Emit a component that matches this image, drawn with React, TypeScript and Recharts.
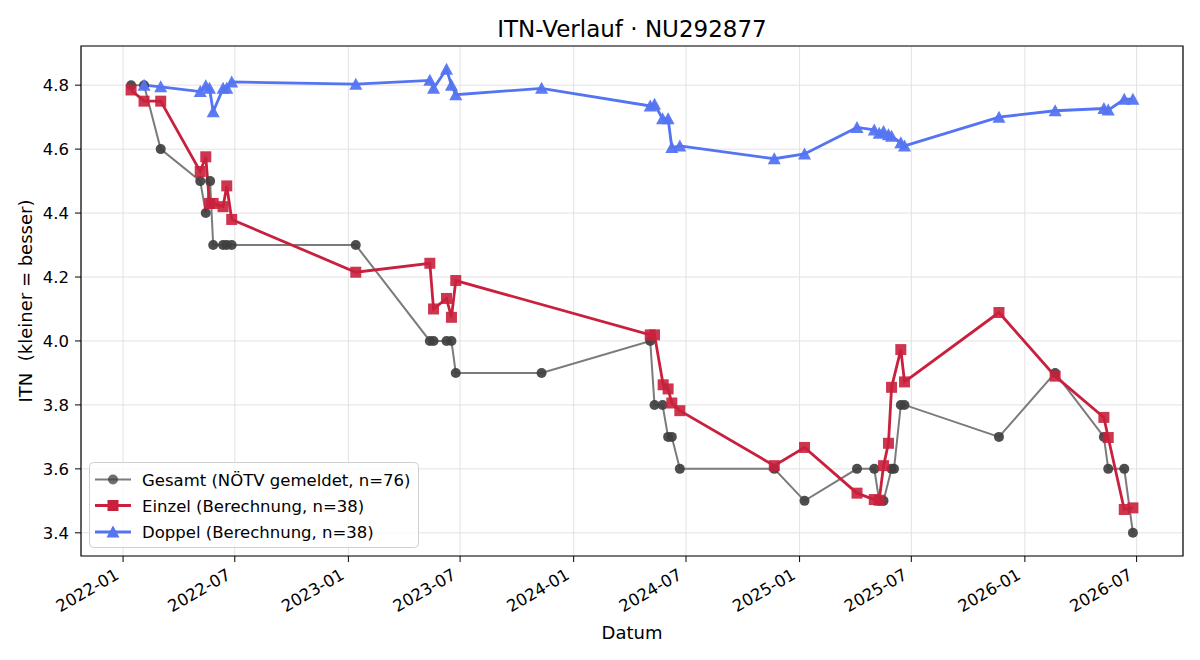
import { CartesianGrid, Line, LineChart, ReferenceArea, XAxis, YAxis } from 'recharts'

const gesamtDates = [
  '2022-01-14', '2022-02-04', '2022-03-03', '2022-05-06', '2022-05-15', '2022-05-22', '2022-05-27',
  '2022-06-12', '2022-06-18', '2022-06-26', '2023-01-13', '2023-05-13', '2023-05-19', '2023-06-09',
  '2023-06-17', '2023-06-24', '2023-11-10', '2024-05-04', '2024-05-11', '2024-05-24', '2024-06-02',
  '2024-06-08', '2024-06-21', '2024-11-21', '2025-01-09', '2025-04-04', '2025-05-02', '2025-05-10',
  '2025-05-17', '2025-05-30', '2025-06-03', '2025-06-14', '2025-06-20', '2025-11-20', '2026-02-19',
  '2026-05-09', '2026-05-16', '2026-06-11', '2026-06-25',
]
const gesamtValues = [
  4.8, 4.8, 4.6, 4.5, 4.4, 4.5, 4.3, 4.3, 4.3, 4.3, 4.3, 4.0, 4.0, 4.0, 4.0, 3.9, 3.9, 4.0, 3.8, 3.8,
  3.7, 3.7, 3.6, 3.6, 3.5, 3.6, 3.6, 3.5, 3.5, 3.6, 3.6, 3.8, 3.8, 3.7, 3.9, 3.7, 3.6, 3.6, 3.4,
]

const einzelDates = [
  '2022-01-14', '2022-02-04', '2022-03-03', '2022-05-06', '2022-05-15', '2022-05-21', '2022-05-27',
  '2022-06-12', '2022-06-18', '2022-06-26', '2023-01-13', '2023-05-13', '2023-05-19', '2023-06-09',
  '2023-06-17', '2023-06-24', '2024-05-04', '2024-05-11', '2024-05-25', '2024-06-02', '2024-06-08',
  '2024-06-21', '2024-11-21', '2025-01-09', '2025-04-04', '2025-05-02', '2025-05-10', '2025-05-17',
  '2025-05-25', '2025-05-30', '2025-06-14', '2025-06-20', '2025-11-20', '2026-02-19', '2026-05-09',
  '2026-05-16', '2026-06-11', '2026-06-25',
]
const einzelValues = [
  4.785, 4.75, 4.75, 4.53, 4.576, 4.43, 4.43, 4.42, 4.485, 4.38, 4.215, 4.243, 4.1, 4.133, 4.074,
  4.189, 4.019, 4.019, 3.863, 3.85, 3.806, 3.782, 3.61, 3.667, 3.524, 3.504, 3.502, 3.61, 3.68,
  3.855, 3.973, 3.872, 4.089, 3.89, 3.761, 3.698, 3.473, 3.478,
]

const doppelDates = [
  '2022-02-04', '2022-03-03', '2022-05-06', '2022-05-15', '2022-05-21', '2022-05-27', '2022-06-12',
  '2022-06-18', '2022-06-26', '2023-01-13', '2023-05-13', '2023-05-19', '2023-06-09', '2023-06-17',
  '2023-06-24', '2023-11-10', '2024-05-04', '2024-05-11', '2024-05-24', '2024-06-02', '2024-06-08',
  '2024-06-21', '2024-11-21', '2025-01-09', '2025-04-04', '2025-05-02', '2025-05-10', '2025-05-17',
  '2025-05-25', '2025-05-30', '2025-06-14', '2025-06-20', '2025-11-20', '2026-02-19', '2026-05-09',
  '2026-05-16', '2026-06-11', '2026-06-25',
]
const doppelValues = [
  4.8, 4.795, 4.78, 4.798, 4.79, 4.717, 4.79, 4.79, 4.81, 4.803, 4.815, 4.79, 4.85, 4.8, 4.77, 4.79,
  4.735, 4.74, 4.695, 4.695, 4.605, 4.61, 4.57, 4.585, 4.668, 4.66, 4.65, 4.655, 4.645, 4.64, 4.62,
  4.61, 4.7, 4.72, 4.727, 4.722, 4.756, 4.756,
]

const xTickDates = [
  '2022-01-01', '2022-07-01', '2023-01-01', '2023-07-01', '2024-01-01',
  '2024-07-01', '2025-01-01', '2025-07-01', '2026-01-01', '2026-07-01',
]
const yTicks = [3.4, 3.6, 3.8, 4.0, 4.2, 4.4, 4.6, 4.8]

const FONT = '"DejaVu Sans", Verdana, sans-serif'

const toTime = (d: string) => Date.parse(`${d}T00:00:00Z`)

const buildSeries = (dates: string[], values: number[]) =>
  dates.map((d, i) => ({ t: toTime(d), v: values[i] }))

const gesamt = buildSeries(gesamtDates, gesamtValues)
const einzel = buildSeries(einzelDates, einzelValues)
const doppel = buildSeries(doppelDates, doppelValues)

// matplotlib-style 5% margins around the data
const allT = [...gesamt, ...einzel, ...doppel].map((p) => p.t)
const allV = [...gesamt, ...einzel, ...doppel].map((p) => p.v)
const tPad = (Math.max(...allT) - Math.min(...allT)) * 0.05
const vPad = (Math.max(...allV) - Math.min(...allV)) * 0.05
const xDomain: [number, number] = [Math.min(...allT) - tPad, Math.max(...allT) + tPad]
const yDomain: [number, number] = [Math.min(...allV) - vPad, Math.max(...allV) + vPad]
const xTicks = xTickDates.map(toTime)

const GRAY_LINE = '#7b7b7b'
const GRAY_DOT = '#3f3f3f'
const RED = '#c9203d'
const BLUE = '#5474f2'

function CircleDot(props: any) {
  const { cx, cy } = props
  if (cx == null || cy == null) return null
  return <circle cx={cx} cy={cy} r={5} fill={GRAY_DOT} fillOpacity={0.92} />
}

function SquareDot(props: any) {
  const { cx, cy } = props
  if (cx == null || cy == null) return null
  return <rect x={cx - 5.5} y={cy - 5.5} width={11} height={11} fill={RED} fillOpacity={0.9} />
}

function TriangleDot(props: any) {
  const { cx, cy } = props
  if (cx == null || cy == null) return null
  return (
    <polygon
      points={`${cx},${cy - 6.5} ${cx - 6.5},${cy + 5.5} ${cx + 6.5},${cy + 5.5}`}
      fill={BLUE}
      fillOpacity={0.95}
    />
  )
}

const dotOf = (Comp: (p: any) => any) => (p: any) => {
  const { key, ...rest } = p
  return <Comp key={`${key ?? p.index}`} {...rest} />
}

function DateTick({ x, y, payload }: any) {
  const label = new Date(payload.value).toISOString().slice(0, 7)
  const tx = x - 3
  const ty = y + 14
  return (
    <text
      x={tx}
      y={ty}
      transform={`rotate(-30 ${tx} ${ty})`}
      textAnchor="end"
      fontSize={16.5}
      fontFamily={FONT}
      fill="#000"
    >
      {label}
    </text>
  )
}

function ValueTick({ x, y, payload }: any) {
  return (
    <text x={x - 4} y={y} dy="0.36em" textAnchor="end" fontSize={16.5} fontFamily={FONT} fill="#000">
      {Number(payload.value).toFixed(1)}
    </text>
  )
}

const legendRows = [
  { label: 'Gesamt (NÖTV gemeldet, n=76)', color: GRAY_LINE, marker: 'circle' },
  { label: 'Einzel (Berechnung, n=38)', color: RED, marker: 'square' },
  { label: 'Doppel (Berechnung, n=38)', color: BLUE, marker: 'triangle' },
]

function LegendMarker({ kind, cx, cy }: { kind: string; cx: number; cy: number }) {
  if (kind === 'circle') return <circle cx={cx} cy={cy} r={5} fill={GRAY_DOT} fillOpacity={0.75} />
  if (kind === 'square') return <rect x={cx - 5.5} y={cy - 5.5} width={11} height={11} fill={RED} />
  return <polygon points={`${cx},${cy - 6.5} ${cx - 6.5},${cy + 5.5} ${cx + 6.5},${cy + 5.5}`} fill={BLUE} />
}

function Overlay() {
  const rowY = [479.5, 505.5, 532]
  return (
    <svg width={1200} height={660} style={{ position: 'absolute', left: 0, top: 0, pointerEvents: 'none' }}>
      <text x={632} y={37} textAnchor="middle" fontSize={23} fontFamily={FONT} fill="#000">
        ITN-Verlauf · NU292877
      </text>
      <text x={632} y={639} textAnchor="middle" fontSize={18} fontFamily={FONT} fill="#000">
        Datum
      </text>
      <text
        x={32}
        y={301}
        transform="rotate(-90 32 301)"
        textAnchor="middle"
        fontSize={18}
        fontFamily={FONT}
        fill="#000"
        style={{ whiteSpace: 'pre' }}
      >
        {'ITN  (kleiner = besser)'}
      </text>

      <rect x={89.5} y={462.5} width={329} height={85} rx={4} fill="#fff" fillOpacity={0.8} stroke="#cfcfcf" />
      {legendRows.map((row, i) => (
        <g key={row.label}>
          <line x1={95} x2={131} y1={rowY[i]} y2={rowY[i]} stroke={row.color} strokeWidth={i === 0 ? 2 : 2.8} />
          <LegendMarker kind={row.marker} cx={113} cy={rowY[i]} />
          <text x={142} y={rowY[i] + 6} fontSize={16.5} fontFamily={FONT} fill="#000">
            {row.label}
          </text>
        </g>
      ))}
    </svg>
  )
}

export default function App() {
  return (
    <div style={{ position: 'relative', width: 1200, height: 660, background: '#fff' }}>
      <style>{'body{margin:0}'}</style>
      <LineChart width={1200} height={660} margin={{ top: 46, right: 17, bottom: 0, left: 0 }}>
        <CartesianGrid stroke="#e2e2e2" strokeWidth={1} />
        <XAxis
          dataKey="t"
          type="number"
          domain={xDomain}
          allowDataOverflow
          ticks={xTicks}
          interval={0}
          height={104}
          axisLine={false}
          tickLine={{ stroke: '#000' }}
          tickSize={6}
          tick={<DateTick />}
        />
        <YAxis
          dataKey="v"
          type="number"
          domain={yDomain}
          allowDataOverflow
          ticks={yTicks}
          interval={0}
          width={81}
          axisLine={false}
          tickLine={{ stroke: '#000' }}
          tickSize={6}
          tick={<ValueTick />}
        />
        <Line
          data={gesamt}
          dataKey="v"
          name="Gesamt"
          type="linear"
          stroke={GRAY_LINE}
          strokeWidth={2}
          dot={dotOf(CircleDot)}
          activeDot={false}
          isAnimationActive={false}
        />
        <Line
          data={einzel}
          dataKey="v"
          name="Einzel"
          type="linear"
          stroke={RED}
          strokeWidth={2.8}
          dot={dotOf(SquareDot)}
          activeDot={false}
          isAnimationActive={false}
        />
        <Line
          data={doppel}
          dataKey="v"
          name="Doppel"
          type="linear"
          stroke={BLUE}
          strokeWidth={2.8}
          dot={dotOf(TriangleDot)}
          activeDot={false}
          isAnimationActive={false}
        />
        <ReferenceArea
          x1={xDomain[0]}
          x2={xDomain[1]}
          y1={yDomain[0]}
          y2={yDomain[1]}
          fill="none"
          stroke="#000"
          strokeWidth={1.2}
          ifOverflow="visible"
        />
      </LineChart>
      <Overlay />
    </div>
  )
}
